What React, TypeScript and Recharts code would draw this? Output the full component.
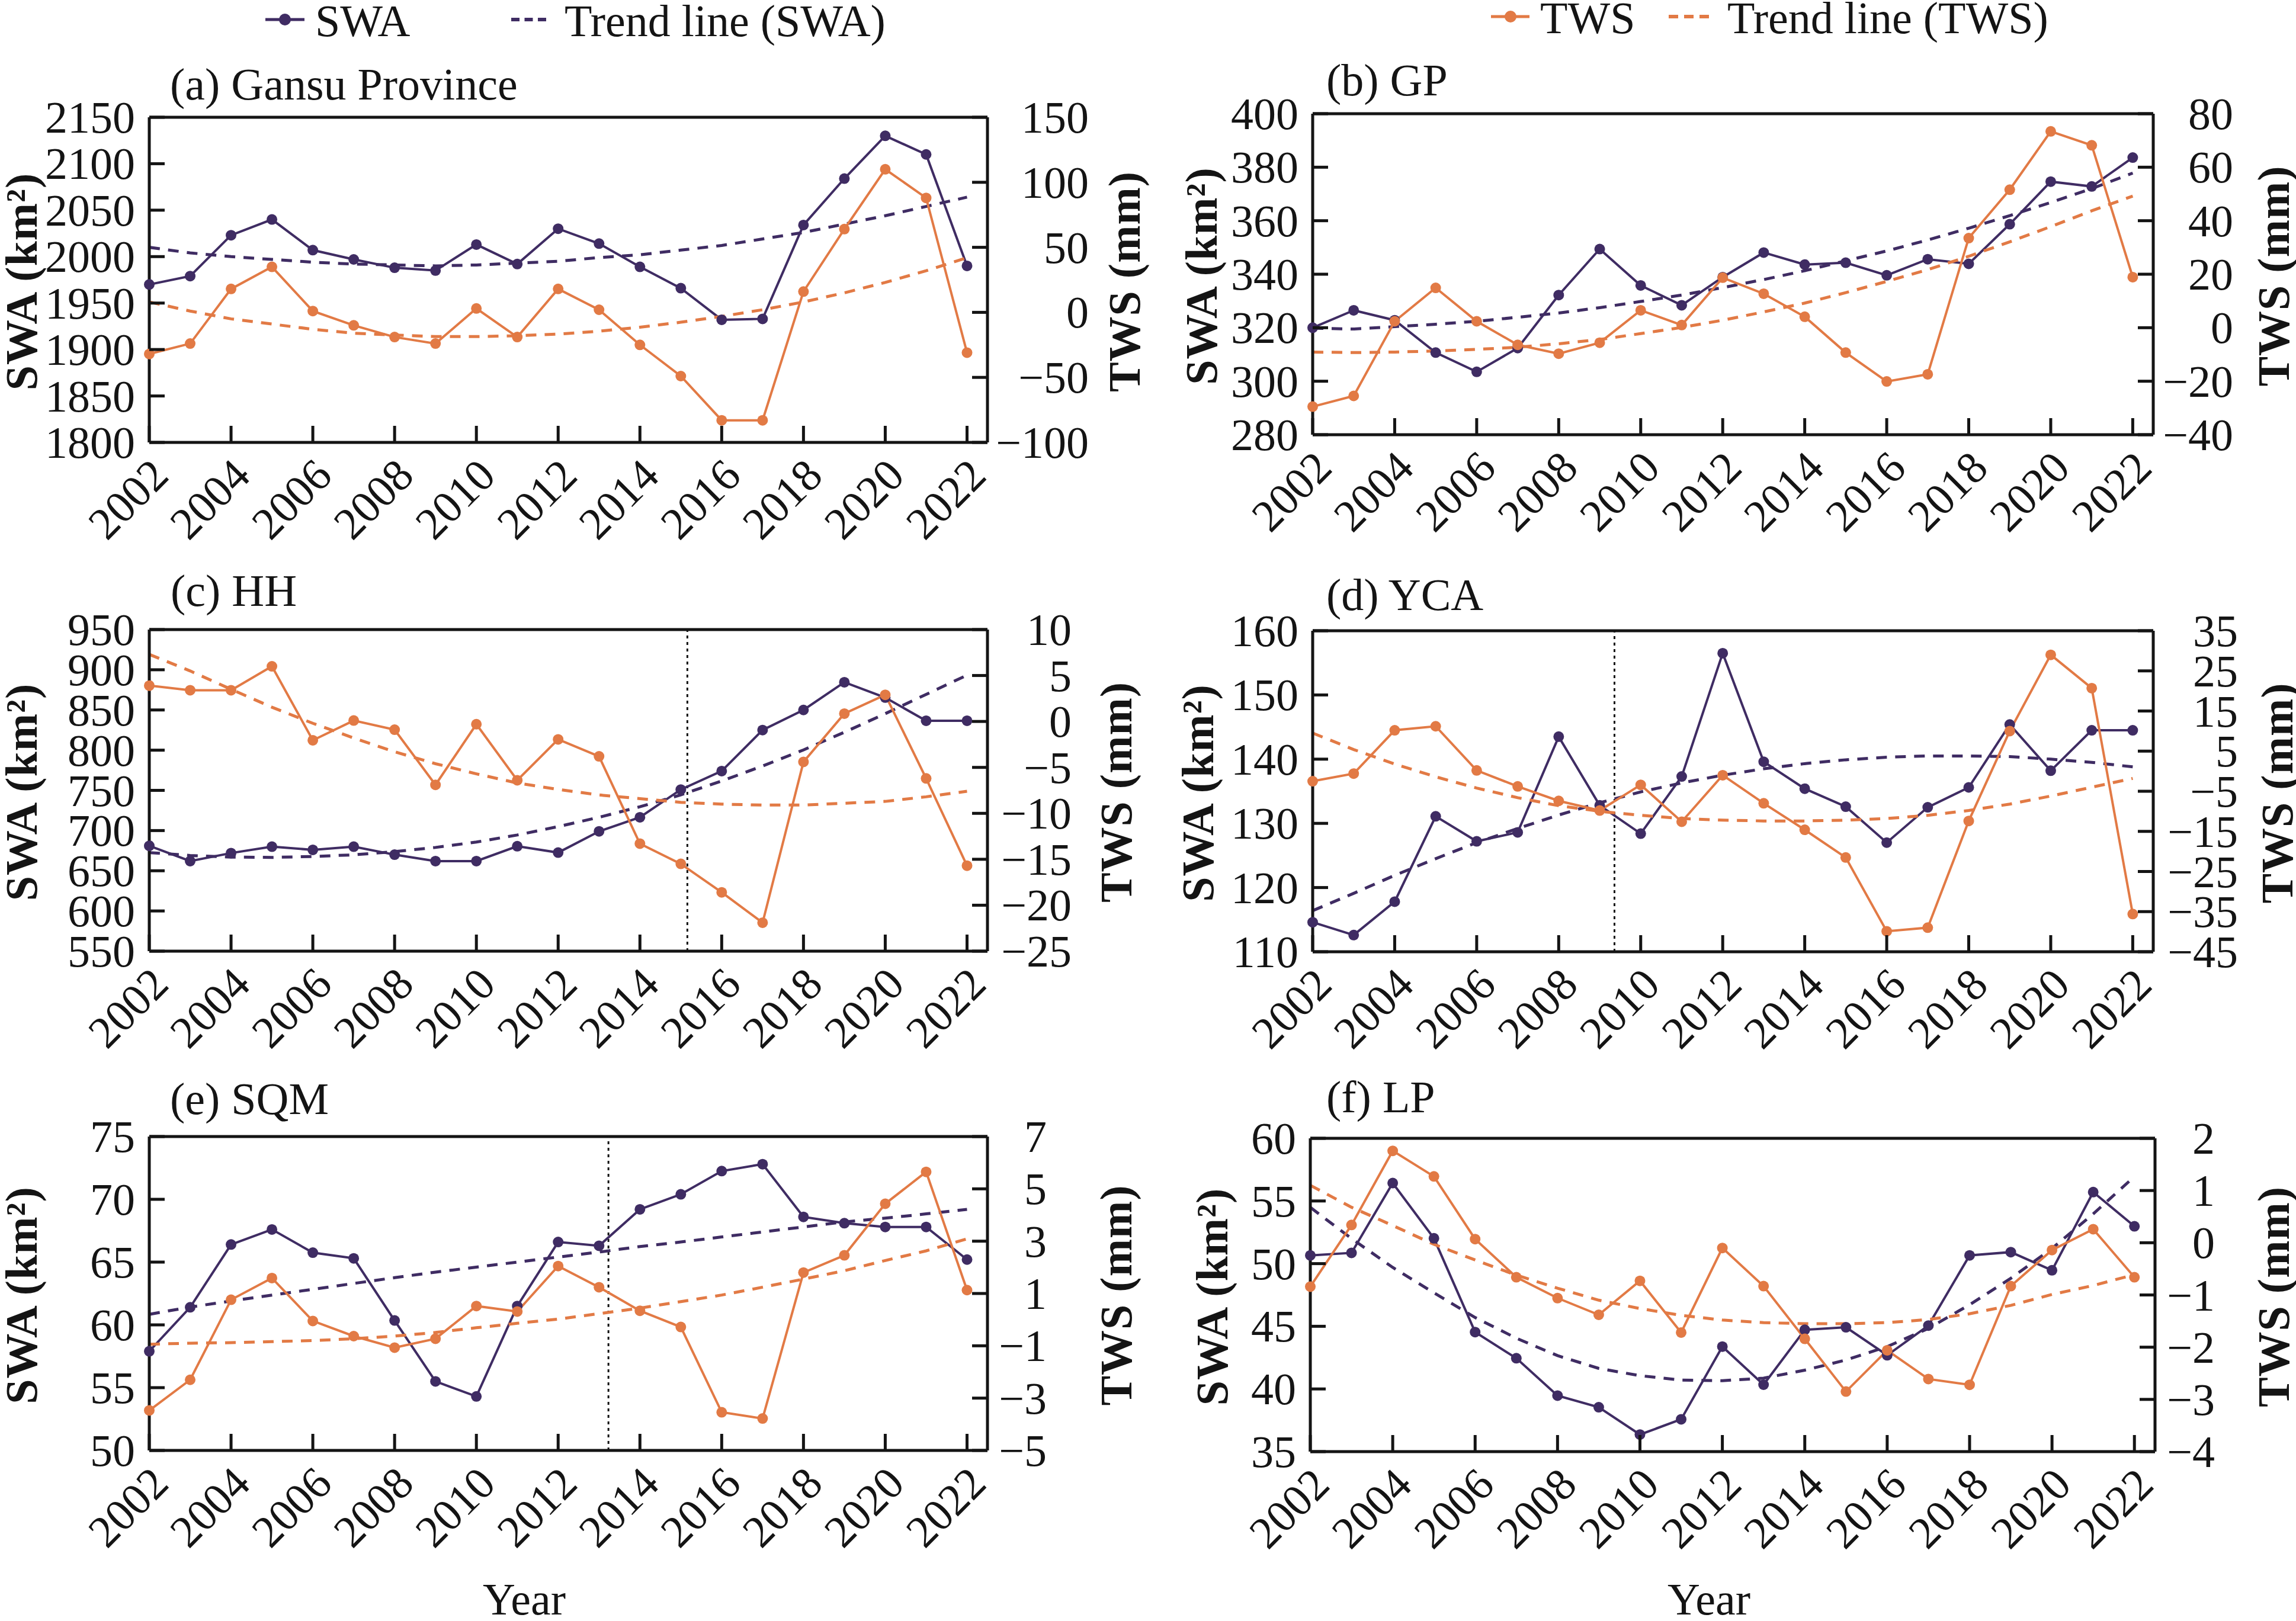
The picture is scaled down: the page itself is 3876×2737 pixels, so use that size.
import { LineChart, Line, XAxis, YAxis, ReferenceLine } from 'recharts';

const years = [2002, 2003, 2004, 2005, 2006, 2007, 2008, 2009, 2010, 2011, 2012, 2013, 2014, 2015, 2016, 2017, 2018, 2019, 2020, 2021, 2022];
const yearTicks = [2002, 2004, 2006, 2008, 2010, 2012, 2014, 2016, 2018, 2020, 2022];

// (a) Gansu Province
const gansuSWA = [1970, 1979, 2023, 2040, 2007, 1997, 1988, 1985, 2013, 1992, 2030, 2014, 1989, 1966, 1932, 1933, 2034, 2084, 2130, 2110, 1990];
const gansuTWS = [-32, -24, 18, 35, 1, -10, -19, -24, 3, -19, 18, 2, -25, -49, -83, -83, 16, 64, 110, 88, -31];
const gansuSWATrend = [2010, 2004, 2000, 1997, 1994, 1992, 1991, 1990, 1991, 1993, 1995, 1999, 2002, 2007, 2012, 2019, 2026, 2035, 2044, 2054, 2064];
const gansuTWSTrend = [8, 1, -5, -9, -13, -16, -17.5, -18.6, -18.6, -18, -16.7, -14.5, -11.4, -7.6, -3.1, 2, 8, 15, 23, 32, 42];
const gansuSWATicks = [1800, 1850, 1900, 1950, 2000, 2050, 2100, 2150];
const gansuTWSTicks = [-100, -50, 0, 50, 100, 150];

// (b) GP
const gpSWA = [320, 326.5, 322.8, 310.7, 303.5, 312.4, 332.2, 349.4, 335.8, 328.4, 338.9, 348.1, 343.6, 344.3, 339.6, 345.6, 343.9, 358.7, 374.6, 372.8, 383.6];
const gpTWS = [-29.5, -25.5, 2.4, 14.9, 2.4, -6.4, -9.7, -5.6, 6.5, 1, 18.7, 12.7, 4.1, -9.3, -20.1, -17.4, 33.5, 51.6, 73.4, 68.2, 18.9];
const gpSWATrend = [319.8, 319.5, 320.4, 321.3, 322.4, 323.9, 325.5, 327.5, 329.8, 332.2, 335, 338, 341.3, 345, 348.7, 352.8, 357.2, 361.9, 366.8, 372, 377.8];
const gpTWSTrend = [-9.1, -9.3, -9.1, -8.7, -8.1, -7.3, -6, -4.4, -2.2, 0.1, 2.8, 5.9, 9.2, 13.1, 17.3, 21.7, 26.7, 32.1, 37.8, 43.7, 49.2];
const gpSWATicks = [280, 300, 320, 340, 360, 380, 400];
const gpTWSTicks = [-40, -20, 0, 20, 40, 60, 80];

// (c) HH
const hhSWA = [681, 662, 672, 680, 676, 680, 670, 662, 662, 680.5, 672.6, 699, 716.5, 751, 774, 825, 850, 884.5, 865.4, 836.6, 836.6];
const hhTWS = [3.9, 3.4, 3.4, 6.0, -2.05, 0.1, -0.9, -6.9, -0.3, -6.4, -1.95, -3.8, -13.3, -15.5, -18.6, -21.9, -4.4, 0.85, 2.9, -6.2, -15.7];
const hhSWATrend = [672.6, 669, 667, 666.6, 667.8, 669.8, 673.8, 679, 685.7, 694.5, 704.9, 716.5, 729.6, 744.4, 761.6, 780.3, 800.3, 822.3, 845.4, 869.4, 893.3];
const hhTWSTrend = [7.3, 5.5, 3.5, 1.55, -0.2, -1.8, -3.3, -4.6, -5.7, -6.7, -7.4, -8.0, -8.4, -8.8, -9.0, -9.1, -9.1, -8.9, -8.7, -8.2, -7.6];
const hhSWATicks = [550, 600, 650, 700, 750, 800, 850, 900, 950];
const hhTWSTicks = [-25, -20, -15, -10, -5, 0, 5, 10];

// (d) YCA
const ycaSWA = [114.6, 112.6, 117.8, 131.1, 127.2, 128.6, 143.5, 132.8, 128.4, 137.3, 156.5, 139.6, 135.4, 132.6, 127, 132.5, 135.6, 145.4, 138.2, 144.5, 144.5];
const ycaTWS = [-2.5, -0.6, 10.2, 11.2, 0.2, -3.8, -7.4, -9.8, -3.4, -12.6, -1, -8, -14.6, -21.5, -39.9, -39, -12.4, 10, 29, 20.7, -35.6];
const ycaSWATrend = [116.4, 119.1, 121.9, 124.5, 127, 129.2, 131.3, 133.2, 134.9, 136.3, 137.5, 138.5, 139.3, 139.9, 140.3, 140.5, 140.5, 140.4, 140, 139.5, 138.8];
const ycaTWSTrend = [9.5, 5.4, 1.8, -1.4, -4.2, -6.6, -8.6, -10, -11, -11.8, -12.2, -12.4, -12.4, -12.2, -11.8, -11, -9.8, -8.2, -6.2, -4, -1.8];
const ycaSWATicks = [110, 120, 130, 140, 150, 160];
const ycaTWSTicks = [-45, -35, -25, -15, -5, 5, 15, 25, 35];

// (e) SQM
const sqmSWA = [57.9, 61.4, 66.4, 67.6, 65.75, 65.3, 60.35, 55.5, 54.3, 61.5, 66.6, 66.3, 69.2, 70.4, 72.25, 72.8, 68.6, 68.1, 67.8, 67.8, 65.2];
const sqmTWS = [-3.47, -2.3, 0.76, 1.59, -0.05, -0.63, -1.07, -0.73, 0.52, 0.31, 2.05, 1.24, 0.34, -0.28, -3.54, -3.78, 1.8, 2.46, 4.43, 5.65, 1.13];
const sqmSWATrend = [60.84, 61.42, 61.9, 62.37, 62.83, 63.3, 63.76, 64.2, 64.6, 65, 65.4, 65.8, 66.24, 66.6, 67, 67.4, 67.8, 68.2, 68.5, 68.84, 69.2];
const sqmTWSTrend = [-0.94, -0.9, -0.88, -0.84, -0.8, -0.73, -0.63, -0.49, -0.31, -0.14, 0.02, 0.23, 0.44, 0.69, 0.94, 1.24, 1.55, 1.87, 2.26, 2.63, 3.09];
const sqmSWATicks = [50, 55, 60, 65, 70, 75];
const sqmTWSTicks = [-5, -3, -1, 1, 3, 5, 7];

// (f) LP
const lpSWA = [50.66, 50.86, 56.43, 52.02, 44.54, 42.45, 39.47, 38.54, 36.36, 37.58, 43.38, 40.34, 44.72, 44.92, 42.69, 45.06, 50.66, 50.92, 49.47, 55.71, 52.98];
const lpTWS = [-0.84, 0.34, 1.76, 1.27, 0.07, -0.66, -1.06, -1.38, -0.73, -1.72, -0.1, -0.83, -1.84, -2.85, -2.06, -2.61, -2.72, -0.83, -0.14, 0.26, -0.66];
const lpSWATrend = [54.49, 52, 49.7, 47.67, 45.7, 44.05, 42.66, 41.64, 41.06, 40.71, 40.66, 40.86, 41.5, 42.31, 43.38, 44.83, 46.72, 48.83, 51.21, 53.97, 56.95];
const lpTWSTrend = [1.1, 0.68, 0.33, -0.03, -0.33, -0.62, -0.87, -1.1, -1.26, -1.39, -1.48, -1.53, -1.55, -1.55, -1.53, -1.47, -1.36, -1.2, -0.99, -0.82, -0.61];
const lpSWATicks = [35, 40, 45, 50, 55, 60];
const lpTWSTicks = [-4, -3, -2, -1, 0, 1, 2];

const PURPLE = '#3f2c63';
const ORANGE = '#e27a45';
const INK = '#141414';
const FONT = 'Liberation Serif';
const FS = 76;

const panels = [
  { title: '(a) Gansu Province', swa: gansuSWA, tws: gansuTWS, swaTrend: gansuSWATrend, twsTrend: gansuTWSTrend, swaTicks: gansuSWATicks, twsTicks: gansuTWSTicks,
    left: 252, right: 1667, top: 198, bottom: 747, rEnd: 171, tx: 287, ty: 168, lx: 36, rx: 1898 },
  { title: '(b) GP', swa: gpSWA, tws: gpTWS, swaTrend: gpSWATrend, twsTrend: gpTWSTrend, swaTicks: gpSWATicks, twsTicks: gpTWSTicks,
    left: 2216, right: 3635, top: 192, bottom: 734, rEnd: 135, tx: 2239, ty: 161, lx: 2028, rx: 3838 },
  { title: '(c) HH', swa: hhSWA, tws: hhTWS, swaTrend: hhSWATrend, twsTrend: hhTWSTrend, swaTicks: hhSWATicks, twsTicks: hhTWSTicks,
    left: 252, right: 1667, top: 1063, bottom: 1606, rEnd: 142, tx: 288, ty: 1023, lx: 36, rx: 1884, vline: 2015.16 },
  { title: '(d) YCA', swa: ycaSWA, tws: ycaTWS, swaTrend: ycaSWATrend, twsTrend: ycaTWSTrend, swaTicks: ycaSWATicks, twsTicks: ycaTWSTicks,
    left: 2216, right: 3635, top: 1065, bottom: 1607, rEnd: 143, tx: 2239, ty: 1030, lx: 2022, rx: 3844, vline: 2009.36 },
  { title: '(e) SQM', swa: sqmSWA, tws: sqmTWS, swaTrend: sqmSWATrend, twsTrend: sqmTWSTrend, swaTicks: sqmSWATicks, twsTicks: sqmTWSTicks,
    left: 252, right: 1667, top: 1919, bottom: 2449, rEnd: 100, tx: 287, ty: 1881, lx: 36, rx: 1884, vline: 2013.23 },
  { title: '(f) LP', swa: lpSWA, tws: lpTWS, swaTrend: lpSWATrend, twsTrend: lpTWSTrend, swaTicks: lpSWATicks, twsTicks: lpTWSTicks,
    left: 2212, right: 3638, top: 1922, bottom: 2451, rEnd: 101, tx: 2239, ty: 1878, lx: 2046, rx: 3838 },
];

const fmt = (v: number) => (v < 0 ? '\u2212' + Math.abs(v) : String(v));

function XTick({ x, y, payload }: any) {
  return (
    <g>
      <line x1={x} y1={y} x2={x} y2={y - 28} stroke={INK} strokeWidth={5} />
      <text x={x + 36} y={y + 60} transform={`rotate(-45 ${x + 36} ${y + 60})`} textAnchor="end"
        style={{ fontFamily: FONT, fontSize: FS }} fill={INK}>{payload.value}</text>
    </g>
  );
}

function LeftTick({ x, y, payload }: any) {
  return (
    <g>
      <line x1={x} y1={y} x2={x + 26} y2={y} stroke={INK} strokeWidth={5} />
      <text x={x - 24} y={y + 26} textAnchor="end" style={{ fontFamily: FONT, fontSize: FS }} fill={INK}>{fmt(payload.value)}</text>
    </g>
  );
}

function RightTick({ x, y, payload, end }: any) {
  return (
    <g>
      <line x1={x - 26} y1={y} x2={x} y2={y} stroke={INK} strokeWidth={5} />
      <text x={x + end} y={y + 26} textAnchor="end" style={{ fontFamily: FONT, fontSize: FS }} fill={INK}>{fmt(payload.value)}</text>
    </g>
  );
}

function Panel({ p }: any) {
  const padL = 250, padR = 230, padT = 100, padB = 200;
  const w = p.right - p.left + padL + padR;
  const h = p.bottom - p.top + padT + padB;
  const data = years.map((year, i) => ({ year, swa: p.swa[i], tws: p.tws[i], swaTrend: p.swaTrend[i], twsTrend: p.twsTrend[i] }));
  const swaDomain = [p.swaTicks[0], p.swaTicks[p.swaTicks.length - 1]];
  const twsDomain = [p.twsTicks[0], p.twsTicks[p.twsTicks.length - 1]];
  const axisLine = { stroke: INK, strokeWidth: 5 };
  return (
    <div style={{ position: 'absolute', left: p.left - padL, top: p.top - padT }}>
      <LineChart width={w} height={h} data={data} margin={{ top: padT, right: 0, bottom: 0, left: 0 }}>
        <XAxis dataKey="year" type="number" domain={[2002, 2022.5]} ticks={yearTicks} interval={0} height={padB}
          tickSize={0} tickMargin={0} axisLine={axisLine} tick={(t: any) => <XTick {...t} />} />
        <YAxis yAxisId="left" domain={swaDomain} ticks={p.swaTicks} interval={0} width={padL}
          tickSize={0} tickMargin={0} axisLine={axisLine} tick={(t: any) => <LeftTick {...t} />} />
        <YAxis yAxisId="right" orientation="right" domain={twsDomain} ticks={p.twsTicks} interval={0} width={padR}
          tickSize={0} tickMargin={0} axisLine={axisLine} tick={(t: any) => <RightTick {...t} end={p.rEnd} />} />
        <ReferenceLine yAxisId="left" y={swaDomain[1]} stroke={INK} strokeWidth={5} />
        {p.vline && <ReferenceLine yAxisId="left" x={p.vline} stroke={INK} strokeWidth={3} strokeDasharray="5 6" />}
        <Line yAxisId="left" dataKey="swa" type="linear" stroke={PURPLE} strokeWidth={4}
          dot={{ r: 9, fill: PURPLE, stroke: PURPLE, strokeWidth: 0 }} activeDot={false} isAnimationActive={false} />
        <Line yAxisId="left" dataKey="swaTrend" type="linear" stroke={PURPLE} strokeWidth={5} strokeDasharray="18 14"
          dot={false} activeDot={false} isAnimationActive={false} />
        <Line yAxisId="right" dataKey="tws" type="linear" stroke={ORANGE} strokeWidth={4}
          dot={{ r: 9, fill: ORANGE, stroke: ORANGE, strokeWidth: 0 }} activeDot={false} isAnimationActive={false} />
        <Line yAxisId="right" dataKey="twsTrend" type="linear" stroke={ORANGE} strokeWidth={5} strokeDasharray="18 14"
          dot={false} activeDot={false} isAnimationActive={false} />
      </LineChart>
    </div>
  );
}

function Overlay() {
  const txt = { style: { fontFamily: FONT, fontSize: FS }, fill: INK };
  const axTitle = { style: { fontFamily: FONT, fontSize: FS, fontWeight: 700, letterSpacing: 1 }, fill: INK };
  return (
    <svg width={3876} height={2737} style={{ position: 'absolute', left: 0, top: 0, pointerEvents: 'none' }}>
      {/* legend */}
      <line x1={448} y1={33} x2={514} y2={33} stroke={PURPLE} strokeWidth={5} />
      <circle cx={481} cy={33} r={10} fill={PURPLE} />
      <text x={532} y={61} {...txt}>SWA</text>
      <line x1={863} y1={33} x2={922} y2={33} stroke={PURPLE} strokeWidth={6} strokeDasharray="14 8.5" />
      <text x={953} y={61} {...txt}>Trend line (SWA)</text>
      <line x1={2517} y1={28} x2={2582} y2={28} stroke={ORANGE} strokeWidth={5} />
      <circle cx={2550} cy={28} r={10} fill={ORANGE} />
      <text x={2600} y={56} {...txt}>TWS</text>
      <line x1={2817} y1={28} x2={2885} y2={28} stroke={ORANGE} strokeWidth={6} strokeDasharray="16 10" />
      <text x={2916} y={56} {...txt}>Trend line (TWS)</text>
      {panels.map((p) => {
        const cy = (p.top + p.bottom) / 2 + 3;
        return (
          <g key={p.title}>
            <text x={p.tx} y={p.ty} {...txt}>{p.title}</text>
            <text x={p.lx} y={cy} transform={`rotate(-90 ${p.lx} ${cy})`} textAnchor="middle" dominantBaseline="central" {...axTitle}>SWA (km²)</text>
            <text x={p.rx} y={cy} transform={`rotate(-90 ${p.rx} ${cy})`} textAnchor="middle" dominantBaseline="central" {...axTitle}>TWS (mm)</text>
          </g>
        );
      })}
      <text x={885} y={2726} textAnchor="middle" {...txt}>Year</text>
      <text x={2885} y={2726} textAnchor="middle" {...txt}>Year</text>
    </svg>
  );
}

export default function App() {
  return (
    <div style={{ position: 'relative', width: 3876, height: 2737, background: '#fff', overflow: 'hidden' }}>
      <style>{'body{margin:0}'}</style>
      {panels.map((p) => <Panel key={p.title} p={p} />)}
      <Overlay />
    </div>
  );
}
